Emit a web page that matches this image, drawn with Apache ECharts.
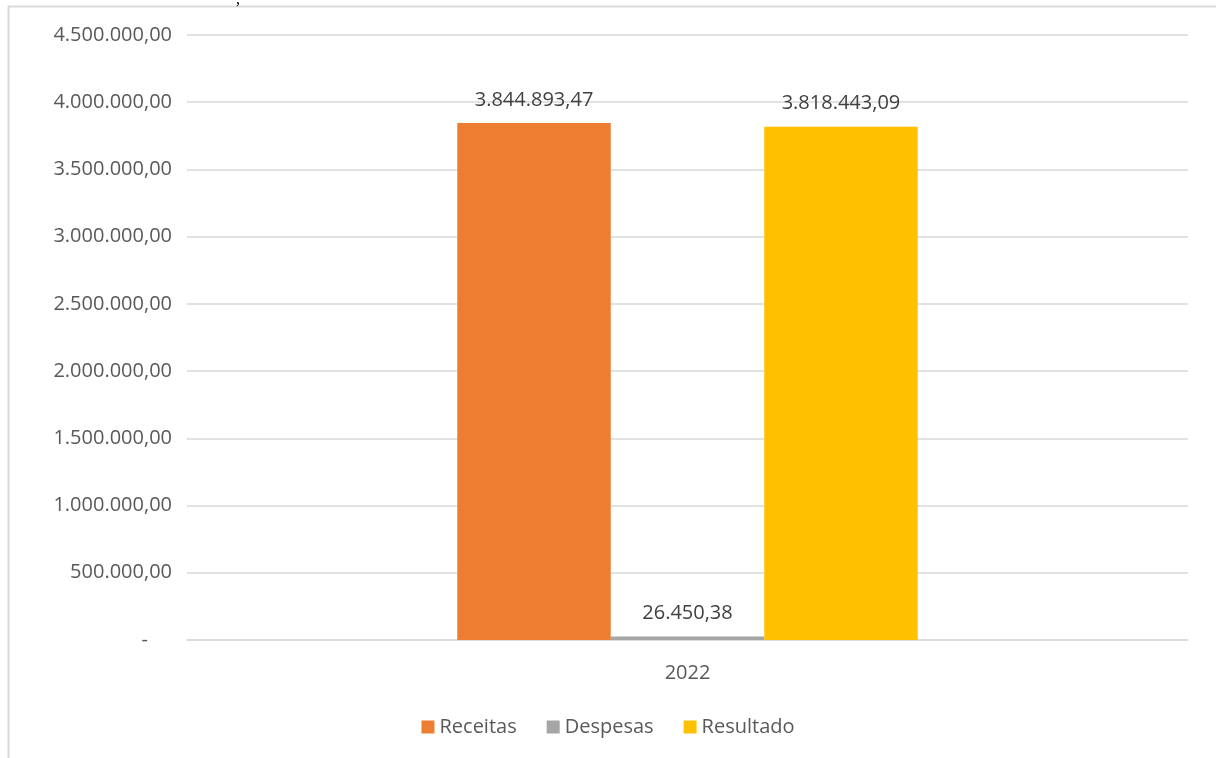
<!DOCTYPE html>
<html>
<head>
<meta charset="utf-8">
<script src="https://cdn.jsdelivr.net/npm/echarts@6/dist/echarts.min.js"></script>
<style>
  html, body { margin: 0; padding: 0; background: #fff; }
  #chart { width: 1216px; height: 758px; }
</style>
</head>
<body>
<div id="chart"></div>
<script>
// dados
const categories = ['2022'];
const seriesNames = ['Receitas', 'Despesas', 'Resultado'];
const receitas = [3844893.47];
const despesas = [26450.38];
const resultado = [3818443.09];
const colors = ['#ED7D31', '#A5A5A5', '#FFC000'];

// formato pt-BR: 1.234.567,89
function fmt(v) {
  const parts = Math.abs(v).toFixed(2).split('.');
  const int = parts[0].replace(/\B(?=(\d{3})+(?!\d))/g, '.');
  return (v < 0 ? '-' : '') + int + ',' + parts[1];
}

const font = 'Open Sans';
const fs = 20;
const chart = echarts.init(document.getElementById('chart'));

const labelStyle = {
  show: true,
  position: 'top',
  distance: 13,
  color: '#404040',
  fontFamily: font,
  fontSize: fs,
  formatter: p => fmt(p.value)
};

const option = {
  animation: false,
  graphic: [
    {
      type: 'rect',
      shape: { x: 8.5, y: 6.5, width: 1400, height: 900 },
      style: { fill: 'none', stroke: '#d9d9d9', lineWidth: 2 }
    },
    {
      type: 'text',
      left: 236, top: -8,
      style: { text: ',', fill: '#000', font: '16px "Liberation Serif"' }
    }
  ],
  grid: { left: 187, right: 28, top: 35, bottom: 118 },
  legend: {
    data: seriesNames,
    bottom: 16,
    left: 'center',
    icon: 'rect',
    itemWidth: 13,
    itemHeight: 13,
    itemGap: 30,
    textStyle: { color: '#595959', fontFamily: font, fontSize: fs }
  },
  xAxis: {
    type: 'category',
    data: categories,
    axisLine: { lineStyle: { color: '#d9d9d9', width: 1.5 } },
    axisTick: { show: false },
    axisLabel: { color: '#595959', fontFamily: font, fontSize: fs, margin: 23 }
  },
  yAxis: {
    type: 'value',
    min: 0,
    max: 4500000,
    interval: 500000,
    axisLine: { show: false },
    axisTick: { show: false },
    splitLine: { lineStyle: { color: '#d9d9d9', width: 1.5 } },
    axisLabel: {
      color: '#595959',
      fontFamily: font,
      fontSize: fs,
      margin: 15,
      formatter: v => v === 0 ? '{d|-}' : fmt(v),
      rich: { d: { padding: [0, 24, 0, 0], color: '#595959', fontFamily: font, fontSize: fs } }
    }
  },
  series: [
    { name: seriesNames[0], type: 'bar', data: receitas, itemStyle: { color: colors[0] }, barGap: '0%', barCategoryGap: '54%', label: labelStyle },
    { name: seriesNames[1], type: 'bar', data: despesas, itemStyle: { color: colors[1] }, barGap: '0%', barCategoryGap: '54%', label: labelStyle },
    { name: seriesNames[2], type: 'bar', data: resultado, itemStyle: { color: colors[2] }, barGap: '0%', barCategoryGap: '54%', label: labelStyle }
  ]
};

chart.setOption(option);
</script>
</body>
</html>
